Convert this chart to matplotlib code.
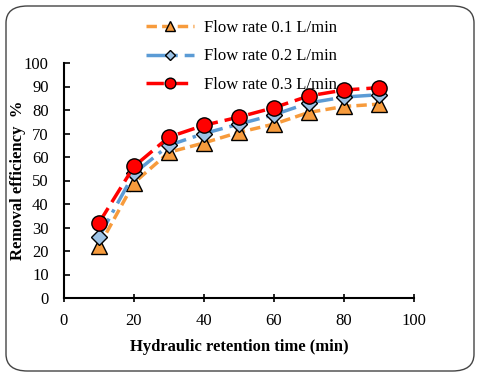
import matplotlib.pyplot as plt
from matplotlib.patches import FancyBboxPatch

plt.rcParams['font.family'] = ['Liberation Serif', 'DejaVu Serif']

# retention time (min) and removal efficiency (%)
hrt = [10, 20, 30, 40, 50, 60, 70, 80, 90]
eff_01 = [22, 49, 62, 66, 70.5, 74, 79, 81.5, 82.5]
eff_02 = [26, 53, 65, 70, 74, 78, 83, 85.5, 86.5]
eff_03 = [32, 56, 68.5, 73.5, 77, 81, 86, 88.5, 89.5]
labels = ['Flow rate 0.1 L/min', 'Flow rate 0.2 L/min', 'Flow rate 0.3 L/min']

fig = plt.figure(figsize=(4.8, 3.77), dpi=100)
ax = fig.add_axes([64 / 480, 1 - 298 / 377, 350 / 480, 235 / 377])

# rounded frame around the whole chart
frame = FancyBboxPatch((6 / 480, 6 / 377), 468 / 480, 365 / 377,
                       boxstyle='round,pad=0,rounding_size=0.045',
                       transform=fig.transFigure, fill=False,
                       edgecolor='#444444', linewidth=1.0)
fig.patches.append(frame)

ax.plot(hrt, eff_01, color='#F79B3C', linestyle=(0, (3, 1.5)), linewidth=2.5,
        marker='^', markersize=11, markerfacecolor='#F79B3C',
        markeredgecolor='black', markeredgewidth=1, label=labels[0])
ax.plot(hrt, eff_02, color='#5B9BD5', linestyle=(0, (6, 2, 1, 2)), linewidth=2.5,
        marker='D', markersize=8, markerfacecolor='#9DC3E6',
        markeredgecolor='black', markeredgewidth=1, label=labels[1])
ax.plot(hrt, eff_03, color='#FF0000', linestyle=(0, (5, 2)), linewidth=2.5,
        marker='o', markersize=11, markerfacecolor='#FF0000',
        markeredgecolor='black', markeredgewidth=1, label=labels[2])

ax.set_xlim(0, 100)
ax.set_ylim(0, 100)
ax.set_xticks(range(0, 101, 20))
ax.set_yticks(range(0, 101, 10))
ax.tick_params(direction='in', length=4, width=1.2, labelsize=12, pad=11)
ax.tick_params(axis='x', direction='inout', length=6, pad=8)
for s in ['top', 'right']:
    ax.spines[s].set_visible(False)
for s in ['left', 'bottom']:
    ax.spines[s].set_linewidth(1.5)

ax.set_xlabel('Hydraulic retention time (min)', fontsize=12, fontweight='bold', labelpad=7)
ax.set_ylabel('Removal efficiency  %', fontsize=12, fontweight='bold')
ax.yaxis.set_label_coords(-0.108, 0.5)

fig.legend(loc='upper left', bbox_to_anchor=(131 / 480, 1 - 5 / 377),
           frameon=False, fontsize=12, handlelength=2.9, handletextpad=0.6,
           labelspacing=0.75, markerscale=0.7)

fig.savefig('out.png', dpi=100)
